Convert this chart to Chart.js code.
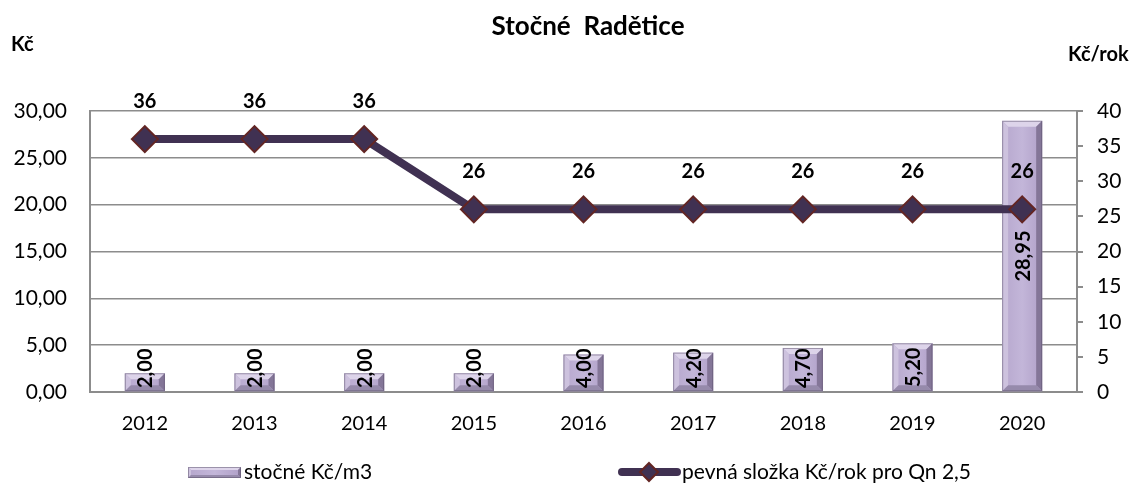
<!DOCTYPE html>
<html>
<head>
<meta charset="utf-8">
<script src="https://cdn.jsdelivr.net/npm/chart.js@4/dist/chart.umd.min.js"></script>
<style>
  html, body { margin: 0; padding: 0; background: #fff; }
  #wrap { width: 1139px; height: 484px; position: relative; }
</style>
</head>
<body>
<div id="wrap"><canvas id="c" width="1139" height="484"></canvas></div>
<script>
const categories = ["2012", "2013", "2014", "2015", "2016", "2017", "2018", "2019", "2020"];
const stocneValues = [2.00, 2.00, 2.00, 2.00, 4.00, 4.20, 4.70, 5.20, 28.95];
const pevnaValues = [36, 36, 36, 26, 26, 26, 26, 26, 26];
const leftTicks = [0, 5, 10, 15, 20, 25, 30];
const rightTicks = [0, 5, 10, 15, 20, 25, 30, 35, 40];
const titleText = "Stočné  Radětice";
const leftUnit = "Kč";
const rightUnit = "Kč/rok";
const barLabel = "stočné Kč/m3";
const lineLabel = "pevná složka Kč/rok pro Qn 2,5";

const FONT = "Lato, 'Open Sans', sans-serif";
const GRID = "#8c8c8c";
const LINE = "#403152";
const MARK_BORDER = "#632523";
const fmt2 = v => v.toFixed(2).replace(".", ",");

function bevelRect(ctx, l, t, r, b, bv) {
  bv = Math.min(bv, (b - t) / 2, (r - l) / 2);
  const g = ctx.createLinearGradient(l, 0, r, 0);
  g.addColorStop(0, "#b6a7cd");
  g.addColorStop(0.5, "#c3b6d9");
  g.addColorStop(1, "#b0a0c8");
  ctx.fillStyle = g;
  ctx.fillRect(l, t, r - l, b - t);
  ctx.fillStyle = "#ddd4ea";
  ctx.beginPath(); ctx.moveTo(l, t); ctx.lineTo(r, t); ctx.lineTo(r - bv, t + bv); ctx.lineTo(l + bv, t + bv); ctx.closePath(); ctx.fill();
  ctx.fillStyle = "#cdc2de";
  ctx.beginPath(); ctx.moveTo(l, t); ctx.lineTo(l + bv, t + bv); ctx.lineTo(l + bv, b - bv); ctx.lineTo(l, b); ctx.closePath(); ctx.fill();
  ctx.fillStyle = "#847698";
  ctx.beginPath(); ctx.moveTo(r, t); ctx.lineTo(r, b); ctx.lineTo(r - bv, b - bv); ctx.lineTo(r - bv, t + bv); ctx.closePath(); ctx.fill();
  ctx.fillStyle = "#968aab";
  ctx.beginPath(); ctx.moveTo(l, b); ctx.lineTo(r, b); ctx.lineTo(r - bv, b - bv); ctx.lineTo(l + bv, b - bv); ctx.closePath(); ctx.fill();
  ctx.strokeStyle = "rgba(90,80,105,0.5)";
  ctx.lineWidth = 1;
  ctx.strokeRect(l + 0.5, t + 0.5, r - l - 1, b - t - 1);
}

const decoPlugin = {
  id: "deco",
  afterDatasetDraw(chart, args) {
    if (args.index !== 0) return;
    const ctx = chart.ctx;
    ctx.save();
    args.meta.data.forEach(el => {
      const l = el.x - el.width / 2, r = el.x + el.width / 2;
      bevelRect(ctx, l, el.y, r, el.base, 6);
    });
    ctx.restore();
  },
  afterDatasetsDraw(chart) {
    const ctx = chart.ctx;
    const area = chart.chartArea;
    ctx.save();
    ctx.font = "bold 20px " + FONT;
    ctx.fillStyle = "#000";
    ctx.textAlign = "center";
    ctx.textBaseline = "middle";
    const barMeta = chart.getDatasetMeta(0);
    barMeta.data.forEach((el, i) => {
      const txt = fmt2(stocneValues[i]);
      const w = ctx.measureText(txt).width;
      let cy = (el.y + el.base) / 2;
      if (cy + w / 2 > area.bottom - 4) cy = area.bottom - 4 - w / 2;
      ctx.save();
      ctx.translate(el.x + 1, cy);
      ctx.rotate(-Math.PI / 2);
      ctx.fillText(txt, 0, 0);
      ctx.restore();
    });
    const lineMeta = chart.getDatasetMeta(1);
    lineMeta.data.forEach((el, i) => {
      ctx.fillText(String(pevnaValues[i]), el.x, el.y - 38);
    });
    ctx.restore();
  },
  afterDraw(chart) {
    const ctx = chart.ctx;
    ctx.save();
    ctx.fillStyle = "#000";
    ctx.textBaseline = "middle";
    ctx.textAlign = "center";
    ctx.font = "bold 26px " + FONT;
    ctx.fillText(titleText, 588, 27);
    ctx.font = "bold 20px " + FONT;
    ctx.textAlign = "left";
    ctx.fillText(leftUnit, 11, 45);
    ctx.fillText(rightUnit, 1068, 55);
    // legend
    const ly = 472;
    bevelRect(ctx, 188, ly - 5, 241, ly + 6, 3);
    ctx.font = "21px " + FONT;
    ctx.fillStyle = "#000";
    ctx.fillText(barLabel, 244, ly);
    ctx.strokeStyle = LINE;
    ctx.lineWidth = 8;
    ctx.lineCap = "round";
    ctx.beginPath(); ctx.moveTo(622, ly); ctx.lineTo(677, ly); ctx.stroke();
    ctx.fillStyle = LINE;
    ctx.strokeStyle = MARK_BORDER;
    ctx.lineWidth = 2;
    ctx.beginPath(); ctx.moveTo(649, ly - 9); ctx.lineTo(658, ly); ctx.lineTo(649, ly + 9); ctx.lineTo(640, ly); ctx.closePath(); ctx.fill(); ctx.stroke();
    ctx.fillStyle = "#000";
    ctx.fillText(lineLabel, 682, ly);
    ctx.restore();
  }
};

new Chart(document.getElementById("c"), {
  type: "bar",
  data: {
    labels: categories,
    datasets: [
      {
        type: "bar",
        label: barLabel,
        data: stocneValues,
        yAxisID: "y",
        backgroundColor: "rgba(0,0,0,0)",
        borderWidth: 0,
        barPercentage: 0.365,
        categoryPercentage: 1,
        order: 2
      },
      {
        type: "line",
        label: lineLabel,
        data: pevnaValues,
        yAxisID: "y1",
        borderColor: LINE,
        borderWidth: 8,
        pointStyle: "rectRot",
        pointRadius: 13,
        pointBackgroundColor: LINE,
        pointBorderColor: MARK_BORDER,
        pointBorderWidth: 2,
        tension: 0,
        order: 1
      }
    ]
  },
  options: {
    responsive: false,
    animation: false,
    devicePixelRatio: 1,
    layout: { padding: { top: 111, left: 0, right: 0, bottom: 0 } },
    plugins: {
      legend: { display: false },
      title: { display: false },
      tooltip: { enabled: false }
    },
    scales: {
      x: {
        grid: { display: false, drawTicks: false },
        border: { display: true, color: GRID, width: 2 },
        ticks: { color: "#000", font: { family: FONT, size: 20 }, padding: 20, maxRotation: 0 },
        afterFit(s) { s.height = 92; }
      },
      y: {
        position: "left",
        min: 0, max: 30,
        afterBuildTicks(s) { s.ticks = leftTicks.map(v => ({ value: v })); },
        grid: { color: GRID, lineWidth: 1.5, drawTicks: false },
        border: { display: true, color: GRID, width: 2 },
        ticks: { color: "#000", font: { family: FONT, size: 21 }, padding: 23, callback: v => fmt2(v) },
        afterFit(s) { s.width = 90; }
      },
      y1: {
        position: "right",
        min: 0, max: 40,
        afterBuildTicks(s) { s.ticks = rightTicks.map(v => ({ value: v })); },
        grid: { drawOnChartArea: false, color: GRID, lineWidth: 2, tickLength: 6 },
        border: { display: true, color: GRID, width: 2 },
        ticks: { color: "#000", font: { family: FONT, size: 21 }, padding: 14, callback: v => String(v) },
        afterFit(s) { s.width = 62; }
      }
    }
  },
  plugins: [decoPlugin]
});
</script>
</body>
</html>
